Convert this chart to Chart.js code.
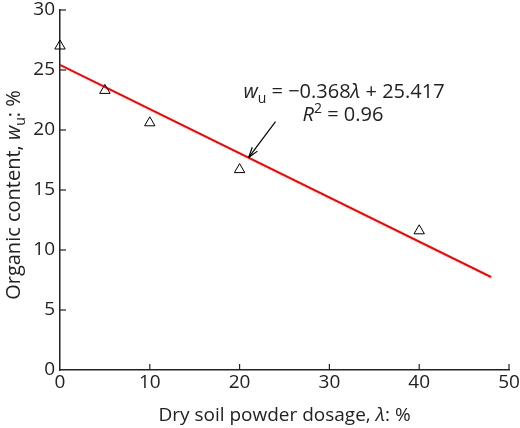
<!DOCTYPE html>
<html>
<head>
<meta charset="utf-8">
<script src="https://cdn.jsdelivr.net/npm/chart.js@4"></script>
<style>
  html, body { margin: 0; padding: 0; background: #fff; }
  #wrap { width: 520px; height: 428px; }
</style>
</head>
<body>
<div id="wrap"><canvas id="chart-1"></canvas></div>
<script>
// measured points
const dosage = [0, 5, 10, 20, 40];
const organic = [27.0, 23.3, 20.6, 16.7, 11.6];

// fitted line end points
const fitX = [0, 48];
const fitY = [25.42, 7.75];

const xTicks = [0, 10, 20, 30, 40, 50];
const yTicks = [0, 5, 10, 15, 20, 25, 30];

const FONT = '"Open Sans", "Noto Sans", sans-serif';
const INK = '#222';

// draw a row of text pieces: [text, italic, sub, sup]
function drawRuns(ctx, runs, cx, y, size) {
    let total = 0;
    const widths = runs.map(r => {
        const s = (r[2] || r[3]) ? size * 0.7 : size;
        ctx.font = (r[1] ? 'italic ' : '') + s + 'px ' + FONT;
        const w = ctx.measureText(r[0]).width;
        total += w;
        return w;
    });
    let x = cx - total / 2;
    runs.forEach((r, i) => {
        const s = (r[2] || r[3]) ? size * 0.7 : size;
        ctx.font = (r[1] ? 'italic ' : '') + s + 'px ' + FONT;
        let dy = 0;
        if (r[2]) dy = size * 0.25;
        if (r[3]) dy = -size * 0.38;
        ctx.fillText(r[0], x, y + dy);
        x += widths[i];
    });
}

const decor = {
    id: 'decor',
    afterDraw(chart) {
        const ctx = chart.ctx;
        const xs = chart.scales.x, ys = chart.scales.y;
        const area = chart.chartArea;
        ctx.save();

        // inward tick marks
        ctx.strokeStyle = INK;
        ctx.lineWidth = 1.2;
        xTicks.forEach(v => {
            const px = xs.getPixelForValue(v);
            if (v === 0) return;
            ctx.beginPath();
            ctx.moveTo(px, area.bottom);
            ctx.lineTo(px, area.bottom - 6);
            ctx.stroke();
        });
        yTicks.forEach(v => {
            const py = ys.getPixelForValue(v);
            if (v === 0) return;
            ctx.beginPath();
            ctx.moveTo(area.left, py);
            ctx.lineTo(area.left + 6, py);
            ctx.stroke();
        });

        // annotation arrow
        const tx = xs.getPixelForValue(24.0), ty = ys.getPixelForValue(20.7);
        const hx = xs.getPixelForValue(21.0), hy = ys.getPixelForValue(17.7);
        ctx.strokeStyle = '#000';
        ctx.fillStyle = '#000';
        ctx.lineWidth = 1.2;
        ctx.beginPath();
        ctx.moveTo(tx, ty);
        ctx.lineTo(hx, hy);
        ctx.stroke();
        const ang = Math.atan2(hy - ty, hx - tx);
        ctx.beginPath();
        ctx.moveTo(hx, hy);
        ctx.lineTo(hx - 11 * Math.cos(ang - 0.3), hy - 11 * Math.sin(ang - 0.3));
        ctx.moveTo(hx, hy);
        ctx.lineTo(hx - 11 * Math.cos(ang + 0.3), hy - 11 * Math.sin(ang + 0.3));
        ctx.stroke();

        // equation text
        ctx.fillStyle = INK;
        ctx.textBaseline = 'alphabetic';
        drawRuns(ctx, [['w', true], ['u', false, true], [' = \u22120.368', false], ['\u03bb', true], [' + 25.417', false]], 344, 98, 20);
        drawRuns(ctx, [['R', true], ['2', false, false, true], [' = 0.96', false]], 343, 121, 20);

        // axis titles
        drawRuns(ctx, [['Dry soil powder dosage, ', false], ['\u03bb', true], [': %', false]], (area.left + area.right) / 2, 421, 19);
        ctx.translate(20, 195);
        ctx.rotate(-Math.PI / 2);
        drawRuns(ctx, [['Organic content, ', false], ['w', true], ['u', false, true], [': %', false]], 0, 0, 20);
        ctx.restore();
    }
};

const config = {
    type: 'scatter',
    data: {
        datasets: [
            {
                type: 'line',
                label: 'fit',
                data: fitX.map((x, i) => ({ x: x, y: fitY[i] })),
                borderColor: '#ff0000',
                borderWidth: 2,
                pointRadius: 0,
                fill: false,
                order: 2
            },
            {
                label: 'measured',
                data: dosage.map((x, i) => ({ x: x, y: organic[i] })),
                pointStyle: 'triangle',
                pointRadius: 6,
                borderColor: '#000',
                borderWidth: 1,
                backgroundColor: 'rgba(0,0,0,0)',
                clip: false,
                order: 1
            }
        ]
    },
    options: {
        responsive: true,
        maintainAspectRatio: false,
        animation: false,
        layout: { padding: { top: 10, right: 11, left: 0, bottom: 0 } },
        plugins: {
            legend: { display: false },
            tooltip: { enabled: false }
        },
        scales: {
            x: {
                type: 'linear',
                min: 0,
                max: 50,
                afterBuildTicks: s => { s.ticks = xTicks.map(v => ({ value: v })); },
                afterFit: s => { s.height = 58; s.paddingLeft = 0; s.paddingRight = 0; },
                grid: { display: false, drawTicks: false },
                border: { display: true, color: INK, width: 1.5 },
                ticks: { color: INK, padding: 3, font: { family: FONT, size: 19, lineHeight: 1 }, maxRotation: 0 }
            },
            y: {
                min: 0,
                max: 30,
                afterBuildTicks: s => { s.ticks = yTicks.map(v => ({ value: v })); },
                afterFit: s => { s.width = 60; s.paddingTop = 0; s.paddingBottom = 0; },
                grid: { display: false, drawTicks: false },
                border: { display: true, color: INK, width: 1.5 },
                ticks: { color: INK, padding: 5, font: { family: FONT, size: 19, lineHeight: 1 } }
            }
        }
    },
    plugins: [decor]
};

new Chart(document.getElementById('chart-1').getContext('2d'), config);
</script>
</body>
</html>
